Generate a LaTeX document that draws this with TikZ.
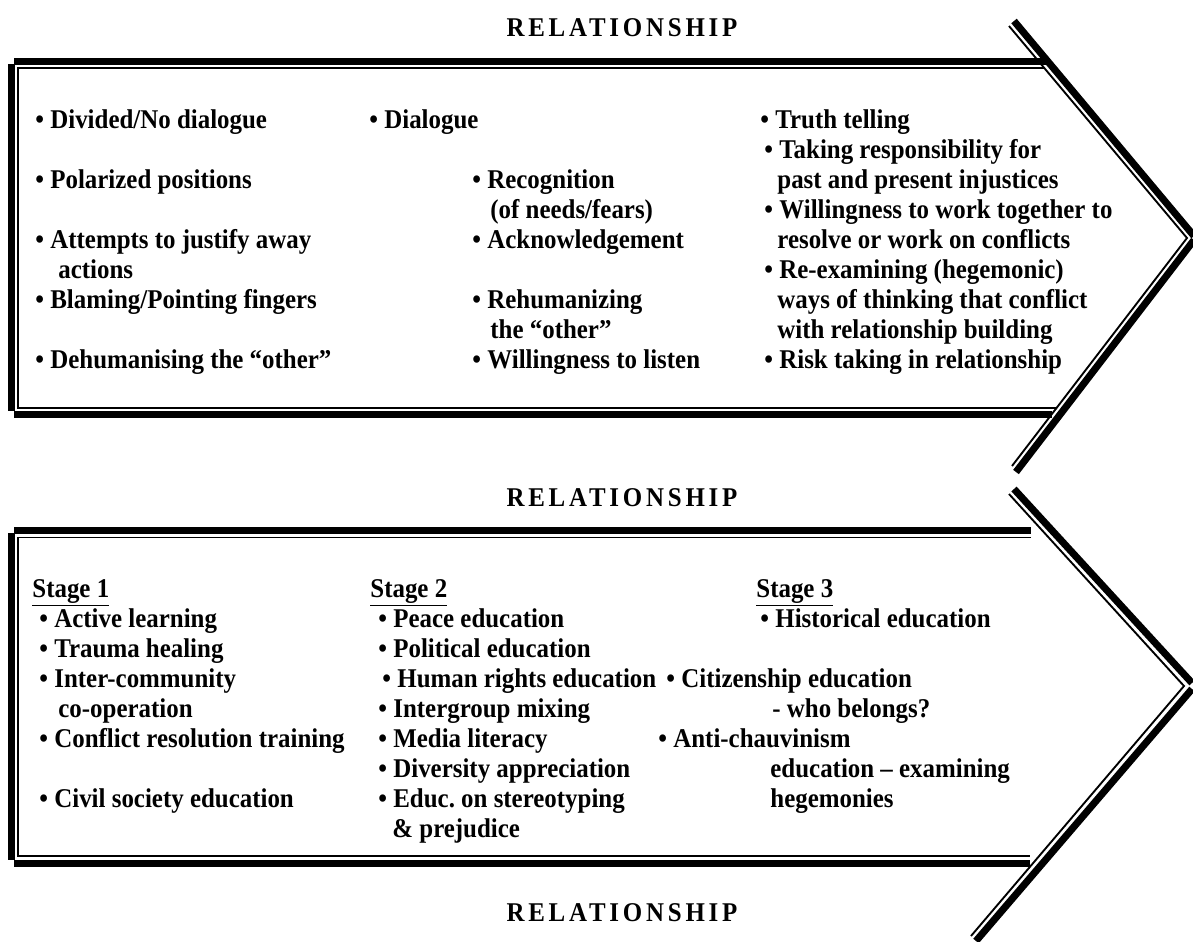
\documentclass[tikz,border=0pt]{standalone}
\usepackage{fontspec}
\setmainfont{Liberation Serif}[FakeStretch=0.92]
\usepackage{tikz}
\usetikzlibrary{positioning}

\newcommand{\bul}{\textbullet\ }

\begin{document}
\begin{tikzpicture}
                [x=0.48pt, y=-0.48pt,
                 item/.style = {anchor=base west, inner sep=0pt, font=\fontsize{13}{15}\selectfont\bfseries},
                 title/.style = {anchor=base, inner sep=0pt, font=\fontsize{13}{15}\selectfont\bfseries\addfontfeature{LetterSpace=14}},
                 heavy/.style = {line width=3.4pt},
                 light/.style = {line width=0.9pt}]
    \useasboundingbox (0,0) rectangle (1193,942);

    % upper arrow
    \draw[heavy] (14,61.5) -- (1048,61.5);
    \draw[heavy] (11.5,64) -- (11.5,411);
    \draw[heavy] (14,414.5) -- (1052,414.5);
    \draw[light] (1044,68) -- (18,68) -- (18,408) -- (1056,408);
    \draw[heavy] (1014,21) -- (1194,236);
    \draw[heavy] (1194,240) -- (1016,472);
    \draw[light] (1009,26) -- (1187,238) -- (1012,466);

    % lower arrow
    \draw[heavy] (14,530.5) -- (1031,530.5);
    \draw[heavy] (11.5,533) -- (11.5,860);
    \draw[heavy] (14,863.5) -- (1030,863.5);
    \draw[light] (1031,537.5) -- (18,537.5) -- (18,856) -- (1030,856);
    \draw[heavy] (1014,489) -- (1192,683);
    \draw[heavy] (1192,689) -- (976,941);
    \draw[light] (1009,494) -- (1184,686) -- (971,936);

    \node[title] (t1) at (622,36) {RELATIONSHIP};
    \node[title] (t2) at (622,506) {RELATIONSHIP};
    \node[title] (t3) at (622,921) {RELATIONSHIP};

    \node[item] (u1) at (35,128) {\bul Divided/No dialogue};
    \node[item] (u2) at (35,188) {\bul Polarized positions};
    \node[item] (u3) at (35,248) {\bul Attempts to justify away};
    \node[item] (u4) at (58,278) {actions};
    \node[item] (u5) at (35,308) {\bul Blaming/Pointing fingers};
    \node[item] (u6) at (35,368) {\bul Dehumanising the ``other''};

    \node[item] (u7) at (369,128) {\bul Dialogue};
    \node[item] (u8) at (472,188) {\bul Recognition};
    \node[item] (u9) at (490,218) {(of needs/fears)};
    \node[item] (u10) at (472,248) {\bul Acknowledgement};
    \node[item] (u11) at (472,308) {\bul Rehumanizing};
    \node[item] (u12) at (490,338) {the ``other''};
    \node[item] (u13) at (472,368) {\bul Willingness to listen};

    \node[item] (u14) at (760,128) {\bul Truth telling};
    \node[item] (u15) at (764,158) {\bul Taking responsibility for};
    \node[item] (u16) at (777,188) {past and present injustices};
    \node[item] (u17) at (764,218) {\bul Willingness to work together to};
    \node[item] (u18) at (777,248) {resolve or work on conflicts};
    \node[item] (u19) at (764,278) {\bul Re-examining (hegemonic)};
    \node[item] (u20) at (777,308) {ways of thinking that conflict};
    \node[item] (u21) at (777,338) {with relationship building};
    \node[item] (u22) at (764,368) {\bul Risk taking in relationship};

    \node[item] (s1) at (32,597) {\underline{Stage 1}};
    \node[item] (l1) at (39,627) {\bul Active learning};
    \node[item] (l2) at (39,657) {\bul Trauma healing};
    \node[item] (l3) at (39,687) {\bul Inter-community};
    \node[item] (l4) at (58,717) {co-operation};
    \node[item] (l5) at (39,747) {\bul Conflict resolution training};
    \node[item] (l6) at (39,807) {\bul Civil society education};

    \node[item] (s2) at (370,597) {\underline{Stage 2}};
    \node[item] (l7) at (378,627) {\bul Peace education};
    \node[item] (l8) at (378,657) {\bul Political education};
    \node[item] (l9) at (382,687) {\bul Human rights education};
    \node[item] (l10) at (378,717) {\bul Intergroup mixing};
    \node[item] (l11) at (378,747) {\bul Media literacy};
    \node[item] (l12) at (378,777) {\bul Diversity appreciation};
    \node[item] (l13) at (378,807) {\bul Educ.\ on stereotyping};
    \node[item] (l14) at (392,837) {\& prejudice};

    \node[item] (s3) at (756,597) {\underline{Stage 3}};
    \node[item] (l15) at (760,627) {\bul Historical education};
    \node[item] (l16) at (666,687) {\bul Citizenship education};
    \node[item] (l17) at (772,717) {- who belongs?};
    \node[item] (l18) at (658,747) {\bul Anti-chauvinism};
    \node[item] (l19) at (770,777) {education -- examining};
    \node[item] (l20) at (770,807) {hegemonies};
\end{tikzpicture}
\end{document}
